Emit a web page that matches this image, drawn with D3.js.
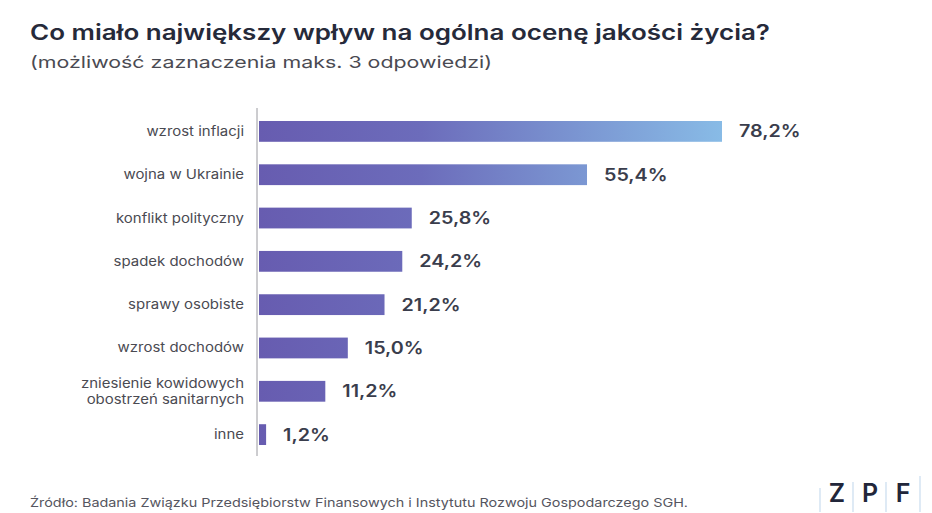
<!DOCTYPE html>
<html><head><meta charset="utf-8">
<script src="https://cdn.jsdelivr.net/npm/d3@7"></script>
<style>
body{margin:0;background:#fff;}
svg{display:block;font-family:"Inter","Liberation Sans",Arial,sans-serif;}
</style></head>
<body>
<svg id="c" width="932" height="513"></svg>
<script>
const categories = ["wzrost inflacji","wojna w Ukrainie","konflikt polityczny","spadek dochodów","sprawy osobiste","wzrost dochodów","zniesienie kowidowych\nobostrzeń sanitarnych","inne"];
const values = [78.2,55.4,25.8,24.2,21.2,15.0,11.2,1.2];
const valueLabels = ["78,2%","55,4%","25,8%","24,2%","21,2%","15,0%","11,2%","1,2%"];
const title = "Co miało największy wpływ na ogólna ocenę jakości życia?";
const subtitle = "(możliwość zaznaczenia maks. 3 odpowiedzi)";
const source = "Źródło: Badania Związku Przedsiębiorstw Finansowych i Instytutu Rozwoju Gospodarczego SGH.";
const logo = ["Z","P","F"];

const svg = d3.select("#c");
const x0 = 259;
const x = d3.scaleLinear().domain([0, 78.2]).range([x0, 722]);
const y = d3.scaleBand().domain(categories).range([108, 458]).paddingInner(0.52).paddingOuter(0.3);

// widen text horizontally (reference uses a wide grotesque)
function stretch(node, f){
  const w = node.getComputedTextLength();
  d3.select(node).attr("textLength", w*f).attr("lengthAdjust","spacingAndGlyphs");
}

const defs = svg.append("defs");
const grad = defs.append("linearGradient").attr("id","g").attr("gradientUnits","userSpaceOnUse")
  .attr("x1", x0).attr("x2", 722).attr("y1",0).attr("y2",0);
grad.append("stop").attr("offset","0%").attr("stop-color","#675cb0");
grad.append("stop").attr("offset","35%").attr("stop-color","#6c6cbb");
grad.append("stop").attr("offset","100%").attr("stop-color","#88bbe6");

const tt = svg.append("text").attr("x",30).attr("y",40).attr("font-size",21).attr("font-weight",600)
  .attr("fill","#262a3a").text(title);
tt.attr("textLength",740).attr("lengthAdjust","spacingAndGlyphs");
const st = svg.append("text").attr("x",30).attr("y",68).attr("font-size",16.5).attr("fill","#4a4a52").text(subtitle);
st.attr("textLength",462).attr("lengthAdjust","spacingAndGlyphs");

svg.selectAll("rect.bar").data(values).join("rect").attr("class","bar")
  .attr("x", x0).attr("y",(d,i)=>y(categories[i]))
  .attr("width", d=>x(d)-x0).attr("height", y.bandwidth())
  .attr("fill","url(#g)");

// axis line
svg.append("line").attr("x1",257).attr("x2",257).attr("y1",108).attr("y2",456)
  .attr("stroke","#9a9aa0").attr("stroke-width",1);

// category labels
const lab = svg.selectAll("text.cat").data(categories).join("text").attr("class","cat")
  .attr("x",244).attr("text-anchor","end").attr("font-size",13).attr("fill","#4a4a52");
lab.each(function(d){
  const lines = d.split("\n");
  const cy = y(d) + y.bandwidth()/2;
  const t = d3.select(this);
  lines.forEach((l,k)=>{
    const ts = t.append("tspan").attr("x",244)
     .attr("y", cy + 4.5 + (k - (lines.length-1)/2)*16).text(l);
    stretch(ts.node(), 1.15);
  });
});

// value labels
svg.selectAll("text.val").data(values).join("text").attr("class","val")
  .attr("x", d=>x(d)+17).attr("y",(d,i)=>y(categories[i])+y.bandwidth()/2+6)
  .attr("font-size",17).attr("font-weight",600).attr("fill","#3a3d4c")
  .text((d,i)=>valueLabels[i])
  .each(function(){ stretch(this, 1.16); });

svg.append("text").attr("x",30).attr("y",507).attr("font-size",12).attr("fill","#555560").text(source)
  .attr("textLength",658).attr("lengthAdjust","spacingAndGlyphs");

// logo
const lx = [837, 870, 903];
svg.selectAll("text.logo").data(logo).join("text").attr("class","logo")
  .attr("x",(d,i)=>lx[i]).attr("y",502).attr("text-anchor","middle")
  .attr("font-size",25).attr("font-weight",600).attr("fill","#22263a").text(d=>d);
[[820,488,512],[853,482,512],[886,482,512],[920,476,512]].forEach(v=>{
  svg.append("line").attr("x1",v[0]).attr("x2",v[0]).attr("y1",v[1]).attr("y2",v[2])
    .attr("stroke","#c9dcef").attr("stroke-width",1.2);
});
</script>
</body></html>
